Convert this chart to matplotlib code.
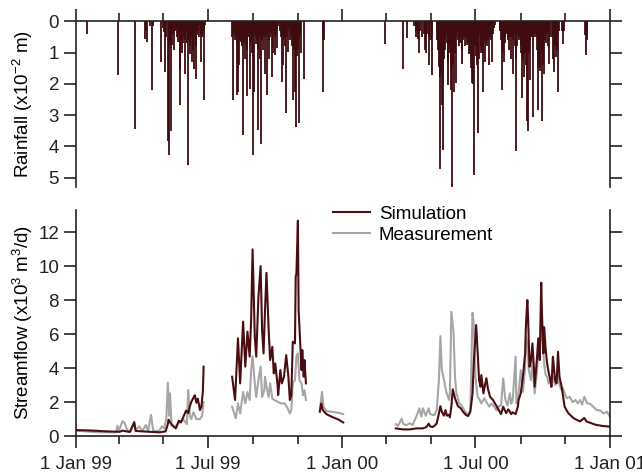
import numpy as np
import pandas as pd
import matplotlib
matplotlib.use('Agg')
import matplotlib.pyplot as plt
import matplotlib.dates as mdates

plt.rcParams['font.family'] = ['Liberation Sans', 'DejaVu Sans']
plt.rcParams['mathtext.default'] = 'regular'
plt.rcParams['font.size'] = 13.5

start = pd.Timestamp('1999-01-01')
nan = np.nan

# daily rainfall (x10^-2 m), day number counted from 1 Jan 99
rain_day = [15, 58, 81, 95, 96, 98, 101, 104, 106, 117, 119, 121, 122, 124, 126, 127, 128, 129, 130, 131,
            132, 133, 135, 136, 137, 138, 140, 141, 142, 143, 144, 145, 146, 147, 148, 149, 150, 151, 152, 153,
            154, 155, 156, 157, 158, 159, 160, 161, 162, 163, 164, 165, 166, 167, 168, 170, 171, 172, 173, 174,
            175, 176, 177,
            214, 215, 216, 217, 218, 219, 220, 221, 222, 223, 224, 225, 226, 227, 228, 229, 230, 231, 232, 233,
            234, 235, 236, 237, 238, 239, 240, 241, 242, 243, 244, 245, 246, 247, 248, 249, 250, 251, 252, 253,
            254, 255, 256, 257, 258, 259, 260, 261, 262, 263, 264, 265, 266, 267, 268, 269, 270, 271, 272, 273,
            274, 275, 276, 277, 279, 280, 281, 282, 283, 284, 285, 286, 287, 288, 289, 290, 291, 292, 293, 294,
            295, 296, 297, 298, 299, 300, 301, 302, 303, 304, 305, 306, 307, 308, 313, 338, 339, 340,
            423, 448, 453, 463, 465, 466, 468, 469, 470, 471, 474, 477, 478, 479, 480, 481, 483, 484, 486, 487,
            488, 494, 495, 496, 497, 498, 499, 500, 501, 502, 503, 504, 505, 506, 507, 508, 509, 510, 511, 512,
            513, 514, 515, 516, 517, 518, 519, 520, 521, 522, 523, 524, 525, 526, 527, 528, 529, 530, 531, 532,
            533, 534, 535, 536, 537, 538, 539, 540, 541, 542, 543, 544, 545, 546, 547, 548, 549, 550, 551, 552,
            553, 554, 555, 556, 557, 558, 559, 560, 561, 562, 563, 564, 565, 566, 567, 568, 569, 570, 571, 572,
            574, 580, 581, 582, 583, 584, 585, 586, 587, 588, 589, 590, 591, 592, 593, 594, 595, 596, 597, 598,
            599, 600, 601, 602, 603, 604, 605, 606, 607, 608, 609, 610, 611, 612, 613, 614, 615, 616, 617, 618,
            619, 620, 621, 622, 623, 624, 625, 626, 627, 628, 629, 630, 631, 632, 633, 634, 635, 636, 637, 638,
            639, 640, 641, 642, 643, 644, 645, 646, 647, 648, 649, 652, 653, 654, 655, 656, 657, 658, 659, 660,
            661, 666, 667, 668, 697, 698, 699, 700]
rain = [0.39, 1.72, 3.45, 0.57, 0.3, 0.66, 0.15, 2.18, 0.15, 1.30, 0.2, 0.35, 1.61, 0.5, 3.84, 0.6, 4.27, 0.8, 3.52, 0.5,
        0.76, 0.4, 0.92, 0.3, 0.24, 0.5, 0.66, 0.45, 1.51, 2.68, 0.6, 0.4, 1.0, 0.7, 0.5, 1.67, 0.6, 0.34, 0.7, 0.5,
        4.59, 0.6, 1.03, 0.8, 0.5, 1.30, 0.6, 0.9, 1.51, 0.5, 1.83, 0.8, 0.45, 0.3, 0.5, 0.13, 0.4, 1.30, 0.5, 0.4,
        2.52, 0.3, 0.13,
        0.5, 2.50, 0.4, 0.24, 0.6, 0.5, 2.36, 0.7, 2.25, 0.5, 1.40, 0.6, 0.66, 0.4, 0.8, 3.63, 0.7, 0.5, 1.19, 0.6,
        0.9, 2.38, 0.5, 0.5, 0.7, 2.17, 0.6, 1.0, 4.27, 0.5, 2.25, 0.4, 0.71, 0.5, 0.6, 0.9, 3.47, 0.5, 1.2, 3.93,
        0.4, 0.6, 0.9, 0.5, 0.4, 1.67, 0.5, 0.3, 2.36, 0.4, 0.6, 1.19, 0.5, 0.3, 1.77, 0.4, 1.0, 0.3, 0.5, 1.08,
        0.4, 0.85, 0.2, 0.15, 0.2, 0.3, 0.5, 1.93, 0.6, 1.40, 0.5, 0.8, 0.4, 2.94, 0.5, 0.98, 0.3, 0.2, 0.6, 0.3,
        0.5, 0.8, 2.52, 0.6, 0.9, 2.25, 0.7, 3.37, 1.1, 0.9, 3.26, 0.5, 0.4, 1.0, 1.83, 2.25, 0.6, 0.6,
        0.71, 1.51, 0.53, 0.15, 0.5, 0.3, 0.55, 0.4, 1.0, 0.3, 0.5, 0.4, 0.9, 0.5, 1.0, 0.4, 1.39, 0.5, 0.6, 1.72,
        0.4, 0.3, 0.6, 0.9, 1.45, 1.8, 4.72, 1.6, 2.67, 2.0, 4.10, 1.2, 0.6, 0.9, 0.4, 0.7, 1.3, 2.04, 1.0, 0.8,
        1.5, 2.2, 5.28, 1.4, 2.25, 0.8, 1.0, 1.98, 0.5, 0.34, 0.6, 0.8, 0.4, 0.7, 0.5, 0.9, 1.35, 0.6, 0.5, 0.4,
        0.8, 0.5, 0.76, 0.5, 0.7, 1.03, 0.4, 1.0, 1.5, 1.98, 1.2, 2.0, 4.9, 0.8, 0.6, 1.1, 1.4, 3.58, 0.9, 1.2,
        0.4, 1.0, 0.8, 0.9, 2.25, 1.0, 0.6, 1.29, 0.7, 0.5, 0.8, 0.6, 1.4, 0.4, 0.5, 0.6, 0.3, 1.29, 0.4, 0.2,
        0.13, 0.2, 0.3, 0.6, 1.0, 2.18, 0.9, 1.29, 0.5, 0.7, 0.3, 0.4, 0.5, 0.6, 0.9, 0.5, 0.4, 1.19, 0.5, 1.67,
        0.6, 0.4, 0.8, 1.2, 4.16, 0.8, 0.4, 0.5, 0.6, 0.4, 0.8, 1.0, 2.46, 1.2, 0.8, 1.77, 1.0, 1.4, 3.19, 1.6,
        3.50, 1.0, 1.88, 0.6, 0.5, 0.4, 0.5, 3.05, 0.5, 0.3, 0.4, 0.5, 0.9, 1.5, 2.83, 1.2, 1.6, 1.45, 1.0, 3.18,
        1.4, 0.9, 1.67, 0.6, 0.4, 0.7, 0.3, 0.8, 1.35, 0.4, 0.5, 0.5, 1.2, 1.61, 0.6, 0.8, 1.13, 0.5, 0.9, 2.25,
        0.3, 0.3, 0.71, 0.3, 0.45, 1.08, 0.6, 0.45]

# simulated streamflow (x10^3 m3/d), nan = no data
sim_day = [1, 19, 40, 60, 64, 74, 80, 82, 101, 115, 123, 126, 127, 130, 134, 137, 141, 144, 146, 151,
           154, 156, 158, 161, 163, 165, 167, 170, 172, 174, 175, 176,
           214, 218, 222, 225, 229, 232, 235, 238, 240, 242, 245, 247, 250, 253, 255, 257, 259, 261,
           264, 266, 269, 271, 273, 276, 277, 280, 282, 285, 288, 291, 293, 295, 297, 300, 301, 302, 304, 305,
           307, 309, 310, 312, 313, 315, 316,
           334, 336, 338, 343, 350, 359, 366, 367,
           438, 448, 457, 466, 475, 480, 483, 485, 488, 491, 494, 497, 499, 501, 504, 506, 508, 511, 512, 514,
           516, 519, 521, 523, 527, 530, 534, 537, 540, 543, 545, 548, 550, 552, 554, 555, 558, 560, 562, 564,
           567, 571, 574, 578, 582, 585, 589, 592, 596, 598, 602, 605, 606, 609, 612, 615, 616, 618, 619, 621,
           623, 625, 627, 628, 631, 633, 635, 637, 638, 640, 641, 643, 645, 647, 649, 651, 653, 656, 658, 660,
           662, 665, 667, 669, 674, 681, 690, 696, 699, 711, 720, 731]
sim_flow = [0.35, 0.33, 0.28, 0.25, 0.32, 0.24, 0.8, 0.3, 0.25, 0.22, 0.28, 0.7, 0.96, 0.75, 0.55, 0.45, 0.9, 0.8, 1.0, 1.5,
            1.35, 1.73, 2.0, 2.25, 2.4, 1.96, 2.2, 1.53, 1.73, 2.67, 4.08, nan,
            3.49, 2.12, 5.75, 3.1, 6.73, 4.08, 6.14, 4.67, 6.82, 10.98, 5.84, 4.67, 8.2, 10.0, 6.24, 4.86, 7.41, 9.6,
            6.24, 4.47, 5.25, 3.69, 4.27, 3.1, 2.41, 3.88, 3.10, 3.49, 4.76, 3.49, 2.12, 2.4, 5.55, 5.45, 9.37, 9.57, 12.67, 7.41,
            5.65, 3.88, 5.06, 3.49, 4.47, 3.1, nan,
            1.43, 1.92, 1.53, 1.29, 1.14, 0.98, 0.8, nan,
            0.45, 0.39, 0.39, 0.45, 0.45, 0.53, 0.73, 0.57, 0.53, 0.6, 0.75, 1.33, 1.76, 1.43, 1.2, 1.53, 1.2, 1.25, 1.1, 1.73,
            2.75, 2.22, 2.0, 1.76, 1.63, 1.43, 1.24, 1.18, 1.43, 2.51, 4.57, 6.53, 4.96, 3.29, 2.9, 3.59, 2.51, 3.0, 3.4, 2.8,
            2.31, 2.12, 1.9, 1.6, 1.29, 1.73, 1.35, 1.57, 1.29, 1.4, 1.29, 1.73, 2.12, 2.51, 3.49, 4.86, 6.43, 8.0, 7.02, 4.08,
            4.47, 5.45, 4.0, 2.9, 4.47, 5.75, 4.47, 9.02, 7.22, 4.86, 6.4, 5.16, 4.3, 3.78, 3.39, 2.9, 4.67, 3.29, 3.1, 4.96,
            3.49, 2.9, 2.31, 1.73, 1.35, 1.06, 0.86, 1.06, 0.86, 0.67, 0.6, 0.55]

# measured streamflow (x10^3 m3/d)
meas_day = [2, 30, 55, 57, 59, 64, 67, 71, 75, 80, 82, 87, 91, 96, 99, 103, 106, 114, 118, 121,
            124, 126, 128, 129, 131, 136, 142, 147, 152, 154, 156, 158, 161, 163, 165, 170, 173, 175, 176,
            214, 219, 222, 225, 229, 232, 235, 238, 240, 242, 245, 247, 250, 253, 255, 258, 259, 261, 264, 266,
            269, 272, 277, 281, 286, 290, 293, 295, 297, 300, 302, 304, 306, 309, 311, 313, 315, 316,
            334, 337, 339, 343, 350, 359, 366, 367,
            438, 441, 446, 448, 452, 457, 461, 467, 470, 473, 475, 479, 483, 485, 488, 491, 494, 497, 499, 501,
            504, 507, 511, 512, 514, 516, 517, 519, 521, 525, 528, 533, 537, 540, 543, 545, 547, 550, 553, 555,
            559, 562, 566, 569, 573, 576, 578, 582, 585, 588, 591, 594, 596, 598, 602, 603, 606, 609, 612, 615,
            616, 618, 620, 623, 625, 627, 628, 631, 633, 635, 637, 639, 641, 643, 645, 647, 649, 651, 653, 656,
            658, 660, 662, 665, 667, 669, 672, 676, 680, 684, 687, 690, 693, 696, 700, 704, 708, 713, 718, 722,
            727, 731]
meas_flow = [0.31, 0.22, 0.22, 0.6, 0.3, 0.88, 0.75, 0.3, 0.28, 0.86, 0.35, 0.57, 0.3, 0.65, 0.28, 1.24, 0.3, 0.3, 0.57, 0.45,
             1.04, 3.14, 1.2, 2.51, 0.65, 0.55, 0.8, 0.98, 0.7, 2.71, 1.2, 1.0, 1.4, 1.2, 1.0, 1.0, 1.2, 2.0, nan,
             1.73, 1.04, 1.92, 1.33, 2.59, 1.92, 2.59, 2.12, 3.88, 4.7, 3.1, 2.3, 3.3, 4.08, 2.3, 2.7, 3.49, 2.9, 2.3, 3.1,
             2.2, 2.12, 2.0, 1.92, 1.92, 1.63, 1.33, 1.53, 3.1, 3.3, 4.67, 4.86, 3.3, 3.1, 2.4, 2.7, 2.12, nan,
             1.53, 2.6, 1.73, 1.47, 1.43, 1.37, 1.29, nan,
             0.7, 0.59, 1.02, 0.73, 0.63, 0.75, 0.65, 1.24, 1.63, 1.14, 1.63, 1.2, 1.63, 1.3, 1.24, 1.25, 1.53, 3.29, 5.88, 3.88,
             3.29, 2.6, 2.12, 2.51, 7.31, 6.53, 6.14, 3.49, 2.51, 1.92, 1.8, 1.43, 1.24, 1.53, 7.25, 6.43, 3.49, 2.31, 2.12, 1.92,
             2.22, 2.0, 1.73, 1.92, 1.7, 1.5, 1.73, 1.8, 3.39, 2.12, 1.8, 2.51, 1.9, 2.12, 4.67, 1.92, 2.51, 3.88, 2.6, 4.08,
             5.84, 5.45, 3.88, 3.29, 4.47, 3.1, 2.51, 3.69, 4.96, 4.67, 6.82, 5.55, 4.27, 3.6, 3.49, 3.1, 3.4, 2.9, 3.49, 3.0,
             3.2, 3.6, 3.0, 2.7, 2.8, 2.51, 2.22, 2.31, 2.0, 2.12, 1.92, 2.12, 1.85, 2.31, 1.92, 1.9, 1.73, 1.53, 1.5, 1.33,
             1.43, 1.14]

sim_color = '#4a0e12'
meas_color = '#a6a6a6'

fig = plt.figure(figsize=(6.42, 4.75), dpi=100)
ax1 = fig.add_axes([0.118, 0.606, 0.832, 0.349])
ax2 = fig.add_axes([0.118, 0.082, 0.832, 0.476])

# rainfall as thin day bars hanging from the top axis
rain_dates = start + pd.to_timedelta(rain_day, unit='D')
ax1.vlines(rain_dates, 0, rain, color='#3e0b0e', lw=1.3)
ax1.set_ylim(5.3, 0)
ax1.set_yticks(range(0, 6))
ax1.set_ylabel('Rainfall (x10$^{-2}$ m)')

sim_dates = start + pd.to_timedelta(sim_day, unit='D')
meas_dates = start + pd.to_timedelta(meas_day, unit='D')
ax2.plot(meas_dates, meas_flow, color=meas_color, lw=1.5, label='Measurement', zorder=2)
ax2.plot(sim_dates, sim_flow, color=sim_color, lw=1.5, label='Simulation', zorder=3)
ax2.set_ylim(0, 13.3)
ax2.set_yticks(range(0, 13, 2))
ax2.set_ylabel('Streamflow (x10$^3$ m$^3$/d)')

h, l = ax2.get_legend_handles_labels()
ax2.legend(h[::-1], l[::-1], loc='upper left', bbox_to_anchor=(0.481, 1.018), frameon=False,
           borderpad=0, borderaxespad=0, handlelength=2.0, handletextpad=0.45, labelspacing=0.18)

for ax in (ax1, ax2):
    ax.set_xlim(pd.Timestamp('1999-01-01'), pd.Timestamp('2001-01-01'))
    ax.xaxis.set_major_locator(mdates.MonthLocator(bymonth=[1, 7]))
    ax.xaxis.set_minor_locator(mdates.MonthLocator(bymonth=[3, 5, 9, 11]))
    ax.xaxis.set_major_formatter(mdates.DateFormatter('1 %b %y'))
    ax.tick_params(axis='both', which='major', direction='out', length=8.5, width=1.2, colors='#222222')
    ax.tick_params(axis='x', which='minor', direction='out', length=6, width=1.2, colors='#222222')
    ax.tick_params(axis='y', right=True, labelright=False)
    ax.yaxis.set_label_coords(-0.077, 0.5)
    for s in ax.spines.values():
        s.set_linewidth(1.2)
        s.set_color('#222222')

ax1.spines['bottom'].set_visible(False)
ax1.xaxis.set_ticks_position('top')
ax1.tick_params(axis='x', which='both', labeltop=False, labelbottom=False)
ax2.spines['top'].set_visible(False)
ax2.xaxis.set_ticks_position('bottom')
ax2.tick_params(axis='x', pad=6)

fig.savefig('out.png', dpi=100)
